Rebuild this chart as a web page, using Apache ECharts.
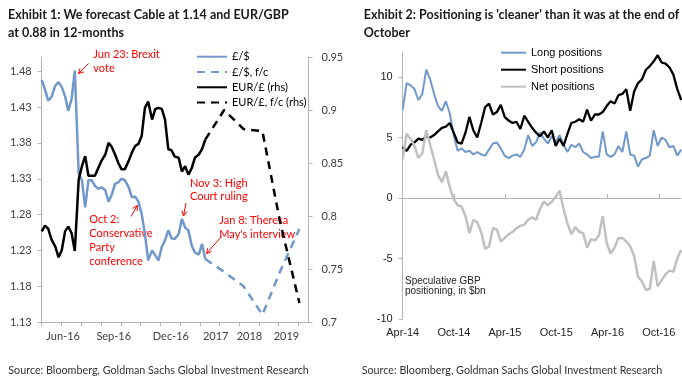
<!DOCTYPE html>
<html><head><meta charset="utf-8">
<script src="https://cdn.jsdelivr.net/npm/echarts@6/dist/echarts.min.js"></script>
<style>html,body{margin:0;padding:0;background:#fff}#c{width:682px;height:387px}</style>
</head><body><div id="c"></div>
<script>
// ---------- Exhibit 1 ----------
// history: days since 1 May 2016
const histDay = [0,5,10,15,21,26,31,36,41,46,51,57,62,67,72,77,82,87,92,98,103,108,113,118,123,128,134,139,144,149,154,159,164,170,175,180,185,190,195,200,205,211,216,221,226,231,236,242,247,252];
const cable = [1.468,1.455,1.439,1.444,1.460,1.465,1.458,1.445,1.425,1.441,
  1.481,1.337,1.328,1.290,1.328,1.328,1.320,1.316,1.318,1.314,
  1.298,1.308,1.323,1.325,1.330,1.328,1.318,1.304,1.305,1.298,
  1.281,1.253,1.216,1.230,1.223,1.216,1.235,1.244,1.258,1.247,
  1.246,1.253,1.274,1.262,1.258,1.237,1.227,1.224,1.239,1.218];
const eurgbp = [0.7855,0.791,0.788,0.778,0.771,0.761,0.768,0.7855,0.790,0.784,
  0.767,0.8345,0.847,0.8565,0.838,0.838,0.838,0.845,0.852,0.858,
  0.869,0.865,0.858,0.850,0.844,0.844,0.852,0.860,0.866,0.868,
  0.8755,0.902,0.908,0.891,0.901,0.902,0.901,0.891,0.863,0.862,
  0.856,0.855,0.842,0.847,0.839,0.845,0.855,0.858,0.863,0.872];
// forecast slots on the same axis
const fcDay = [252, 281, 311, 340, 367, 397];
const cableFc = [1.218, 1.20, 1.18, 1.14, 1.20, 1.26];
const eurgbpFc = [0.872, 0.90, 0.882, 0.88, 0.795, 0.718];
const leftTicks = [1.13, 1.18, 1.23, 1.28, 1.33, 1.38, 1.43, 1.48];
const rightTicks = [0.7, 0.75, 0.8, 0.85, 0.9, 0.95];
const xTickDays = [0,30,61,91,122,152,183,213,244,274,304,335,365,395];
const xLabelDays = [33,111,199,268,320,377];
const xLabels = ['Jun-16','Sep-16','Dec-16','2017','2018','2019'];

// ---------- Exhibit 2 ----------
const posStart = '2014-04-01';
const posStepDays = 14;
const longPos = [7.3,9.5,9.3,9.0,8.1,8.6,10.6,9.8,8.6,7.6,
  7.2,8.0,7.0,5.2,3.9,4.1,3.8,3.9,3.6,3.8,
  3.6,3.5,4.0,4.5,4.6,4.1,3.5,3.3,3.5,3.6,
  3.4,4.0,5.2,4.3,4.6,5.4,4.9,4.5,5.1,4.6,
  5.2,4.4,3.8,4.4,4.2,4.5,3.8,3.6,3.3,3.4,
  3.4,5.5,3.6,3.4,3.6,4.3,3.8,5.5,3.6,3.5,
  2.6,3.2,3.3,3.5,5.6,4.3,5.0,4.8,4.2,4.3,
  3.5,4.0];
const shortPos = [4.2,3.9,4.4,4.6,4.9,4.8,5.1,5.0,5.2,5.5,
  5.8,5.9,6.2,5.4,4.6,4.5,5.4,6.7,5.6,5.0,
  6.2,7.5,7.8,6.9,7.1,7.7,6.7,6.4,6.2,6.3,
  5.7,6.8,6.3,5.8,5.4,5.1,5.5,5.0,5.6,4.3,
  4.9,4.3,5.3,6.2,6.3,6.5,6.3,7.3,6.4,6.9,
  6.9,7.1,7.6,8.0,7.8,8.5,8.6,9.0,7.2,8.8,
  9.5,9.8,10.6,10.9,11.3,11.8,11.2,11.1,10.8,10.2,
  9.0,8.1];
const netPos = [3.2,5.3,4.9,4.3,3.3,3.7,5.6,4.4,3.2,1.9,
  1.3,2.2,0.9,-0.1,-0.6,-0.7,-1.5,-2.9,-1.8,-2.0,
  -2.8,-4.2,-4.0,-2.5,-2.6,-3.6,-3.3,-3.0,-2.8,-2.5,
  -2.3,-2.2,-1.8,-1.6,-1.8,-0.9,-0.3,-0.6,-0.3,0.1,
  0.6,-0.9,-2.1,-3.0,-2.4,-2.8,-2.9,-4.1,-3.4,-3.5,
  -3.1,-1.5,-3.7,-4.6,-4.1,-3.3,-3.3,-3.6,-4.0,-4.8,
  -6.5,-6.9,-7.6,-7.5,-5.2,-7.3,-6.8,-6.3,-6.0,-6.1,
  -5.0,-4.3];
const posTickDates = ['2014-04-01','2014-10-01','2015-04-01','2015-10-01','2016-04-01','2016-10-01'];
const posYTicks = [-10, -5, 0, 5, 10];

// ---------- build ----------
const DAY = 86400000;
const t0 = Date.parse(posStart + 'T00:00:00Z');
const posDates = longPos.map((_, i) => t0 + i * posStepDays * DAY);
const posTickTs = posTickDates.map(d => Date.parse(d + 'T00:00:00Z'));
const MON = ['Jan','Feb','Mar','Apr','May','Jun','Jul','Aug','Sep','Oct','Nov','Dec'];

const L = 'Lato';
const A = 'Liberation Sans';
const axisGrey = '#b3b3b3';
const blue = '#7198cb';
const red = '#ff0000';

function arrow(x1, y1, x2, y2) {
  const a = Math.atan2(y2 - y1, x2 - x1), h = 5.5, s = 0.5;
  return [
    {type:'line', shape:{x1, y1, x2, y2}, style:{stroke:red, lineWidth:1}},
    {type:'polyline', shape:{points:[[x2 - h*Math.cos(a - s), y2 - h*Math.sin(a - s)], [x2, y2], [x2 - h*Math.cos(a + s), y2 - h*Math.sin(a + s)]]}, style:{stroke:red, fill:null, lineWidth:1}}
  ];
}
function txt(x, yTop, text, font, fill, lh) {
  return {type:'text', x, y:yTop, style:{text, font, fill, lineHeight:lh, verticalAlign:'top', align:'left'}};
}
function fmtMonth(v) {
  const d = new Date(v);
  return MON[d.getUTCMonth()] + '-' + String(d.getUTCFullYear()).slice(2);
}

const chart = echarts.init(document.getElementById('c'), null, {renderer:'canvas'});
chart.setOption({
  animation: false,
  backgroundColor: '#fff',
  grid: [
    {left:41.7, top:57, width:266.8, height:265, outerBoundsMode:'none', containLabel:false},
    {left:402.7, top:52.8, width:278.5, height:266.2, outerBoundsMode:'none', containLabel:false}
  ],
  xAxis: [
    {type:'value', gridIndex:0, min:0, max:411,
      axisLine:{show:true, onZero:false, lineStyle:{color:axisGrey, width:1}},
      axisTick:{show:true, length:4, customValues:xTickDays, lineStyle:{color:axisGrey}},
      axisLabel:{customValues:xLabelDays, margin:9, color:'#404040', fontFamily:L, fontSize:11,
        formatter: v => { const i = xLabelDays.indexOf(Math.round(v)); return i >= 0 ? xLabels[i] : ''; }},
      splitLine:{show:false}},
    {type:'value', gridIndex:1, min:posDates[0], max:posDates[posDates.length-1], position:'bottom',
      axisLine:{show:false, onZero:false}, axisTick:{show:false},
      axisLabel:{customValues:posTickTs, margin:8, color:'#222', fontFamily:A, fontSize:11, formatter: fmtMonth},
      splitLine:{show:false}},
    {type:'value', gridIndex:1, min:posDates[0], max:posDates[posDates.length-1], position:'bottom',
      axisLine:{show:true, onZero:true, lineStyle:{color:axisGrey, width:1}},
      axisTick:{show:true, inside:true, length:4, customValues:posTickTs, lineStyle:{color:axisGrey}},
      axisLabel:{show:false}, splitLine:{show:false}}
  ],
  yAxis: [
    {type:'value', gridIndex:0, position:'left', min:1.13, max:1.50,
      axisLine:{show:true, onZero:false, lineStyle:{color:axisGrey, width:1}},
      axisTick:{show:true, length:4, customValues:leftTicks, lineStyle:{color:axisGrey}},
      axisLabel:{customValues:leftTicks, margin:10, color:'#404040', fontFamily:L, fontSize:11, formatter: v => v.toFixed(2)},
      splitLine:{show:false}},
    {type:'value', gridIndex:0, position:'right', min:0.7, max:0.95,
      axisLine:{show:true, onZero:false, lineStyle:{color:axisGrey, width:1}},
      axisTick:{show:true, length:4, customValues:rightTicks, lineStyle:{color:axisGrey}},
      axisLabel:{customValues:rightTicks, margin:13, color:'#404040', fontFamily:L, fontSize:11, formatter: v => String(parseFloat(v.toFixed(2)))},
      splitLine:{show:false}},
    {type:'value', gridIndex:1, position:'left', min:-10, max:12,
      axisLine:{show:true, onZero:false, lineStyle:{color:axisGrey, width:1}},
      axisTick:{show:true, length:4, customValues:posYTicks, lineStyle:{color:axisGrey}},
      axisLabel:{customValues:posYTicks, margin:10, color:'#222', fontFamily:A, fontSize:11},
      splitLine:{show:false}}
  ],
  legend: [
    {data:['£/$','£/$, f/c','EUR/£ (rhs)','EUR/£, f/c (rhs)'], orient:'vertical', left:196, top:49.7,
      itemWidth:30, itemHeight:2, itemGap:1.3, selectedMode:false, padding:0,
      textStyle:{fontFamily:L, fontSize:11, color:'#000', lineHeight:14}},
    {data:['Long positions','Short positions','Net positions'], orient:'vertical', left:500, top:45.7,
      itemWidth:25, itemHeight:2, itemGap:3, selectedMode:false, padding:0,
      textStyle:{fontFamily:A, fontSize:11, color:'#000', lineHeight:14}}
  ],
  series: [
    {type:'line', name:'£/$', xAxisIndex:0, yAxisIndex:0, symbol:'none', color:blue,
      lineStyle:{color:blue, width:2.5}, data: histDay.map((d, i) => [d, cable[i]])},
    {type:'line', name:'£/$, f/c', xAxisIndex:0, yAxisIndex:0, symbol:'none', color:blue,
      lineStyle:{color:blue, width:2.5, type:[8,6]}, data: fcDay.map((d, i) => [d, cableFc[i]])},
    {type:'line', name:'EUR/£ (rhs)', xAxisIndex:0, yAxisIndex:1, symbol:'none', color:'#000',
      lineStyle:{color:'#000', width:2.5}, data: histDay.map((d, i) => [d, eurgbp[i]])},
    {type:'line', name:'EUR/£, f/c (rhs)', xAxisIndex:0, yAxisIndex:1, symbol:'none', color:'#000',
      lineStyle:{color:'#000', width:2.5, type:[8,6]}, data: fcDay.map((d, i) => [d, eurgbpFc[i]])},
    {type:'line', name:'Long positions', xAxisIndex:2, yAxisIndex:2, symbol:'none', color:blue,
      lineStyle:{color:blue, width:2}, data: posDates.map((d, i) => [d, longPos[i]])},
    {type:'line', name:'Short positions', xAxisIndex:2, yAxisIndex:2, symbol:'none', color:'#000',
      lineStyle:{color:'#000', width:2.3}, data: posDates.map((d, i) => [d, shortPos[i]])},
    {type:'line', name:'Net positions', xAxisIndex:2, yAxisIndex:2, symbol:'none', color:'#c0c0c0',
      lineStyle:{color:'#c0c0c0', width:2.5}, data: posDates.map((d, i) => [d, netPos[i]])}
  ],
  graphic: [].concat(
    [
      txt(8, 6, 'Exhibit 1: We forecast Cable at 1.14 and EUR/GBP\nat 0.88 in 12-months', 'bold 12.5px ' + L, '#1a1a1a', 17.7),
      txt(363.7, 6, "Exhibit 2: Positioning is 'cleaner' than it was at the end of\nOctober", 'bold 12.5px ' + L, '#1a1a1a', 17.7),
      txt(8.3, 364, 'Source: Bloomberg, Goldman Sachs Global Investment Research', '10.75px ' + L, '#333', 13),
      txt(361.7, 364, 'Source: Bloomberg, Goldman Sachs Global Investment Research', '10.75px ' + L, '#333', 13),
      txt(93.3, 48, 'Jun 23: Brexit\nvote', '11px ' + L, red, 13.5),
      txt(89.3, 213, 'Oct 2:\nConservative\nParty\nconference', '11px ' + L, red, 13.9),
      txt(190, 176.5, 'Nov 3: High\nCourt ruling', '11px ' + L, red, 13.5),
      txt(219.3, 214, "Jan 8: Theresa\nMay's interview", '11px ' + L, red, 13.5),
      txt(405, 275.5, 'Speculative GBP\npositioning, in $bn', '10px ' + A, '#222', 10.5)
    ],
    arrow(88.5, 63.5, 78.5, 73.5),
    arrow(131, 216.5, 137.3, 205.5),
    arrow(186, 203, 183.5, 216),
    arrow(221.5, 236.5, 206.5, 253.5)
  )
});
</script></body></html>
